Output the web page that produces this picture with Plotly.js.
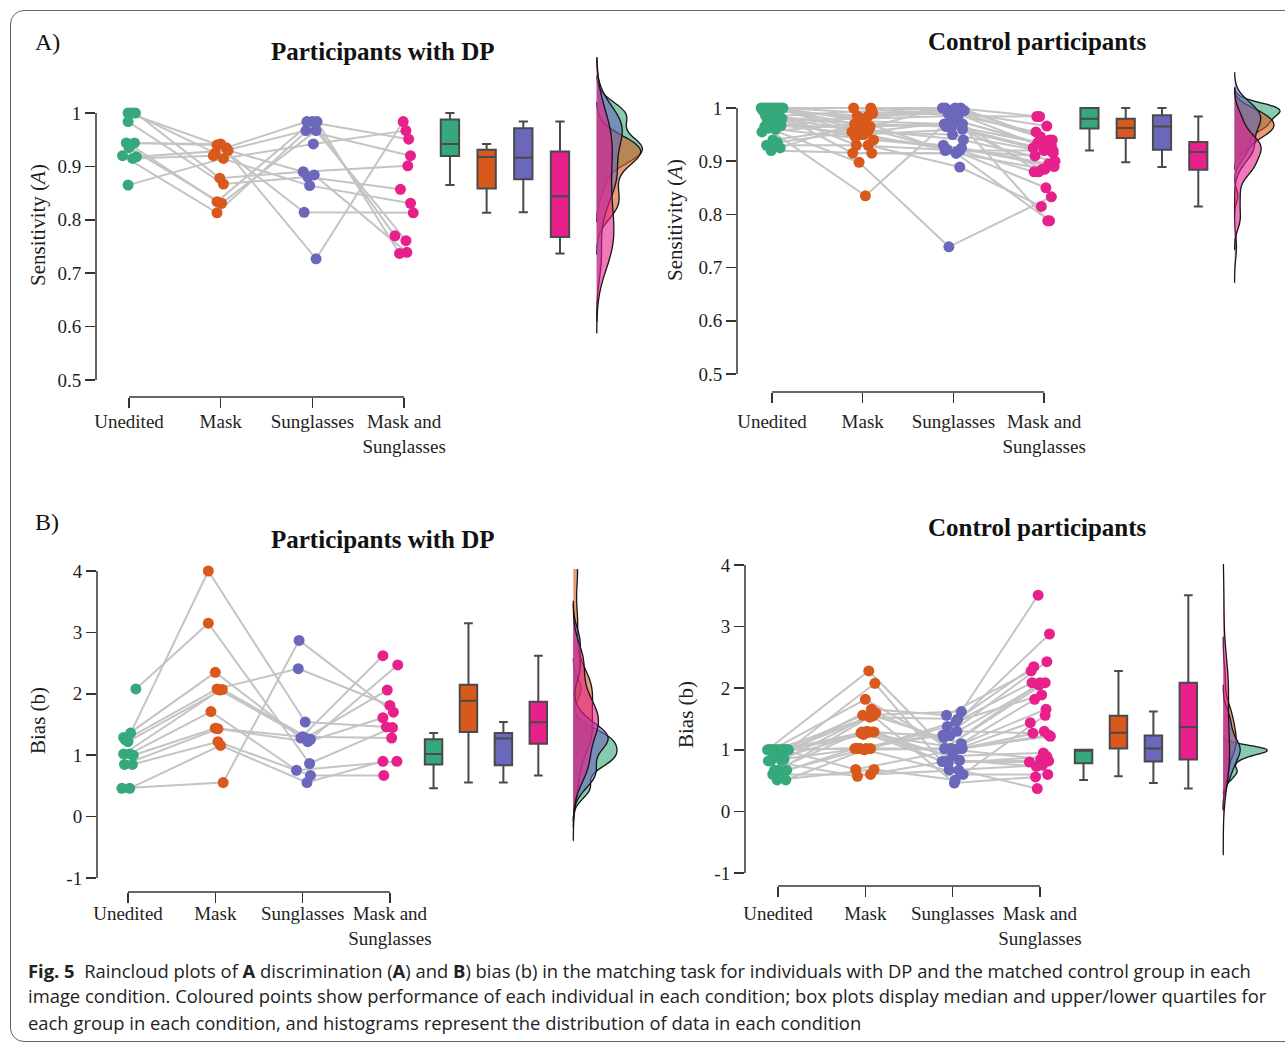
<!DOCTYPE html>
<html>
<head>
<meta charset="utf-8">
<script src="https://cdn.plot.ly/plotly-3.0.1.min.js"></script>
<style>
html,body{margin:0;padding:0;background:#fff;overflow:hidden;}
#chart{position:absolute;left:0;top:0;width:1285px;height:1044px;}
#frame{position:absolute;left:10px;top:10px;width:1320px;height:1032px;border:1px solid #666;border-radius:14px;box-sizing:border-box;pointer-events:none;}
</style>
</head>
<body>
<div id="chart"></div>
<div id="frame"></div>
<script>
// ---------------- DATA ----------------
const conditionLabels = ["Unedited", "Mask", "Sunglasses", "Mask and<br>Sunglasses"];
const sensTickVals = [0.5, 0.6, 0.7, 0.8, 0.9, 1];
const sensTickText = ["0.5", "0.6", "0.7", "0.8", "0.9", "1"];
const biasTickVals = [-1, 0, 1, 2, 3, 4];
const biasTickText = ["-1", "0", "1", "2", "3", "4"];

// A) Sensitivity, participants with DP (one entry per participant)
const dpSensUnedited   = [1.0, 1.0, 1.0, 0.984, 0.944, 0.944, 0.94, 0.935, 0.92, 0.918, 0.915, 0.865];
const dpSensMask       = [0.935, 0.925, 0.878, 0.867, 0.942, 0.94, 0.834, 0.831, 0.813, 0.93, 0.92, 0.915];
const dpSensSunglasses = [0.984, 0.967, 0.89, 0.88, 0.727, 0.814, 0.984, 0.967, 0.984, 0.884, 0.864, 0.942];
const dpSensMaskSung   = [0.951, 0.92, 0.901, 0.857, 0.984, 0.813, 0.77, 0.761, 0.737, 0.739, 0.831, 0.967];

// A) Sensitivity, control participants
const ctlSensUnedited   = [1, 1, 1, 1, 1, 1, 1, 1, 1, 0.995, 0.99, 0.985, 0.985, 0.98, 0.98, 0.975, 0.97, 0.965, 0.965, 0.96, 0.955, 0.967, 0.962, 0.94, 0.935, 0.93, 0.925, 0.92];
const ctlSensMask       = [0.98, 1, 0.965, 0.95, 0.99, 0.93, 0.975, 1, 0.96, 0.985, 0.915, 0.97, 0.995, 0.945, 0.955, 0.98, 0.96, 0.985, 0.835, 0.94, 0.97, 0.95, 0.898, 0.965, 0.955, 0.93, 0.975, 0.915];
const ctlSensSunglasses = [1, 0.985, 1, 0.96, 0.995, 0.92, 0.97, 1, 0.94, 0.99, 0.915, 0.965, 1, 0.93, 0.975, 0.985, 0.922, 0.995, 0.98, 0.925, 0.965, 0.918, 0.739, 0.97, 0.95, 0.889, 0.92, 0.915];
const ctlSensMaskSung   = [0.94, 0.984, 0.92, 0.885, 0.966, 0.88, 0.93, 0.984, 0.9, 0.955, 0.885, 0.92, 0.946, 0.89, 0.935, 0.788, 0.91, 0.94, 0.93, 0.895, 0.925, 0.85, 0.833, 0.88, 0.915, 0.815, 0.92, 0.788];

// B) Bias, participants with DP
const dpBiasUnedited   = [2.08, 1.36, 0.46, 0.46, 1.29, 1.25, 1.22, 1.02, 1.02, 1.0, 0.85, 0.85];
const dpBiasMask       = [3.15, 4.0, 0.555, 1.16, 2.35, 2.08, 2.07, 2.06, 1.71, 1.44, 1.43, 1.22];
const dpBiasSunglasses = [0.865, 1.54, 2.87, 0.555, 1.28, 2.41, 1.26, 1.28, 0.755, 1.30, 1.22, 0.67];
const dpBiasMaskSung   = [1.45, 1.46, 1.70, 0.90, 2.62, 1.81, 2.47, 2.06, 0.90, 1.28, 1.61, 0.67];

// B) Bias, control participants
const ctlBiasUnedited   = [1, 1, 1, 1, 1, 1, 1, 1, 1, 1, 1, 1, 1, 1, 1, 0.95, 0.9, 0.85, 0.83, 0.83, 0.82, 0.67, 0.67, 0.67, 0.65, 0.6, 0.51, 0.51];
const ctlBiasMask       = [2.28, 1.02, 1.29, 1.56, 2.08, 1.02, 1.3, 1.55, 1.27, 1.02, 0.68, 1.82, 1.29, 1.02, 1.53, 1.25, 1.66, 1.02, 1.28, 1.6, 0.57, 1.02, 1.29, 1.56, 1.02, 0.6, 1.0, 0.68];
const ctlBiasSunglasses = [1.02, 1.3, 0.81, 1.62, 0.67, 1.02, 1.2, 0.46, 1.02, 1.38, 1.0, 1.02, 0.83, 1.24, 1.5, 0.9, 1.56, 0.6, 1.23, 1.02, 0.81, 1.46, 0.78, 1.1, 1.0, 0.67, 1.02, 0.51];
const ctlBiasMaskSung   = [2.09, 1.27, 0.82, 3.51, 0.75, 1.44, 2.43, 0.56, 1.22, 2.09, 0.85, 1.66, 0.73, 2.88, 2.35, 0.95, 2.28, 0.6, 2.05, 1.3, 0.8, 1.89, 0.89, 1.82, 1.24, 0.37, 2.09, 1.56];

// horizontal jitter of the raindrops (category units)
const jitA_dp = [
  [-0.01, 0.03, 0.07, -0.01, -0.03, 0.06, 0.02, 0.0, -0.07, 0.08, 0.04, -0.01],
  [0.06, -0.06, -0.01, 0.03, 0.0, -0.04, -0.04, 0.01, -0.04, 0.08, -0.08, 0.03],
  [-0.06, -0.07, -0.1, -0.05, 0.04, -0.09, 0.0, 0.04, 0.05, 0.02, -0.03, 0.01],
  [0.05, 0.07, 0.04, -0.04, -0.01, 0.1, -0.1, 0.02, -0.05, 0.03, 0.07, 0.02]
];
const jitB_dp = [
  [0.09, 0.03, -0.07, 0.02, -0.05, -0.03, 0.0, -0.05, 0.02, 0.06, -0.04, 0.05],
  [-0.08, -0.08, 0.09, 0.06, 0.0, 0.02, 0.08, 0.05, -0.05, 0.0, 0.03, 0.03],
  [0.08, 0.03, -0.04, 0.05, -0.02, -0.05, 0.09, 0.03, -0.07, 0.0, 0.06, 0.09],
  [0.03, -0.04, 0.04, -0.08, -0.08, 0.0, 0.09, -0.03, 0.08, 0.02, -0.08, -0.07]
];
const jitCtl = [
  [-0.12, -0.06, 0.0, 0.06, 0.12, -0.09, 0.09, -0.03, 0.03, -0.1, 0.05, -0.07, 0.08, -0.02, 0.11, -0.05, 0.02, 0.07, -0.08, 0.04, -0.11, 0.1, -0.04, 0.01, 0.06, -0.06, 0.09, -0.01],
  [0.04, -0.1, 0.08, -0.03, 0.11, -0.07, 0.02, 0.09, -0.05, 0.06, -0.11, 0.0, 0.1, -0.08, 0.05, -0.02, 0.07, -0.06, 0.03, 0.12, -0.09, 0.01, -0.04, 0.08, -0.12, 0.06, -0.01, 0.1],
  [-0.09, 0.05, -0.12, 0.1, -0.04, 0.07, -0.1, 0.02, 0.11, -0.06, 0.03, -0.02, 0.08, -0.11, 0.06, 0.0, -0.07, 0.12, -0.03, 0.09, -0.08, 0.04, -0.05, 0.1, -0.01, 0.07, -0.09, 0.03],
  [0.06, -0.08, 0.1, -0.02, 0.03, -0.11, 0.08, -0.05, 0.12, -0.09, 0.01, 0.07, -0.04, 0.11, -0.07, 0.04, -0.1, 0.09, -0.01, 0.05, -0.12, 0.02, 0.08, -0.06, 0.1, -0.03, 0.0, 0.06]
];

// ---------------- STYLE ----------------
const colors = ["#35a97c", "#d9581c", "#6b67bb", "#e8208c"];
const densFill = ["rgba(53,169,124,0.6)", "rgba(217,88,28,0.6)", "rgba(107,103,187,0.6)", "rgba(232,32,140,0.6)"];
const boxPos = [3.5, 3.9, 4.3, 4.7];
const densPos = 5.1;
const densFullWidth = 1.0;   // violin full width -> half-violin reaches 0.5 category units
const W = 1285, H = 1044;
const serif = "Liberation Serif, Times New Roman, serif";

// ---------------- statistics helpers (ggplot-like) ----------------
function quantile7(sorted, p) {
  const h = (sorted.length - 1) * p, lo = Math.floor(h);
  const hi = Math.min(lo + 1, sorted.length - 1);
  return sorted[lo] + (h - lo) * (sorted[hi] - sorted[lo]);
}
function boxStats(vals) {
  const s = vals.slice().sort((a, b) => a - b);
  const q1 = quantile7(s, 0.25), med = quantile7(s, 0.5), q3 = quantile7(s, 0.75);
  const iqr = q3 - q1;
  const lf = Math.min(...s.filter(v => v >= q1 - 1.5 * iqr));
  const uf = Math.max(...s.filter(v => v <= q3 + 1.5 * iqr));
  return {q1, med, q3, lf, uf};
}
function bwNrd0(vals) {
  const n = vals.length;
  const mean = vals.reduce((a, b) => a + b, 0) / n;
  const sd = Math.sqrt(vals.reduce((a, b) => a + (b - mean) * (b - mean), 0) / (n - 1));
  const s = vals.slice().sort((a, b) => a - b);
  const iqr = quantile7(s, 0.75) - quantile7(s, 0.25);
  const lo = Math.min(sd, iqr / 1.34) || sd;
  return 0.9 * lo * Math.pow(n, -0.2);
}
function kdePeak(vals, bw) {
  const mn = Math.min(...vals) - 3 * bw, mx = Math.max(...vals) + 3 * bw;
  let best = 0;
  for (let g = 0; g <= 512; g++) {
    const x = mn + (mx - mn) * g / 512;
    let s = 0;
    for (const v of vals) { const z = (x - v) / bw; s += Math.exp(-0.5 * z * z); }
    s /= (vals.length * bw * Math.sqrt(2 * Math.PI));
    if (s > best) best = s;
  }
  return best;
}

const panels = [
  {vals: [dpSensUnedited, dpSensMask, dpSensSunglasses, dpSensMaskSung], jit: jitA_dp,
   c0: 129, step: 91.7, left: 96, right: 660, top: 57, bottom: 397, stand: -3,
   va: 1, pa: 113, vb: 0.5, pb: 380, tv: sensTickVals, tt: sensTickText},
  {vals: [ctlSensUnedited, ctlSensMask, ctlSensSunglasses, ctlSensMaskSung], jit: jitCtl,
   c0: 772, step: 90.7, left: 737, right: 1284, top: 72, bottom: 392, stand: 2,
   va: 1, pa: 108, vb: 0.5, pb: 374, tv: sensTickVals, tt: sensTickText},
  {vals: [dpBiasUnedited, dpBiasMask, dpBiasSunglasses, dpBiasMaskSung], jit: jitB_dp,
   c0: 128, step: 87.3, left: 97, right: 650, top: 569, bottom: 892, stand: -6,
   va: 4, pa: 571, vb: -1, pb: 878, tv: biasTickVals, tt: biasTickText},
  {vals: [ctlBiasUnedited, ctlBiasMask, ctlBiasSunglasses, ctlBiasMaskSung], jit: jitCtl,
   c0: 778, step: 87.3, left: 745, right: 1284, top: 564, bottom: 886, stand: 0,
   va: 4, pa: 565, vb: -1, pb: 873, tv: biasTickVals, tt: biasTickText}
];

const traces = [];
const layout = {
  width: W, height: H, margin: {l: 0, r: 0, t: 0, b: 0},
  paper_bgcolor: "#fff", plot_bgcolor: "rgba(0,0,0,0)",
  showlegend: false, violinmode: "overlay", boxmode: "overlay",
  shapes: [], annotations: [], hovermode: false
};

panels.forEach((P, k) => {
  const sfx = k === 0 ? "" : String(k + 1);
  const xa = "x" + sfx, ya = "y" + sfx;
  const vAt = p => P.va + (p - P.pa) * (P.vb - P.va) / (P.pb - P.pa);
  const n = P.vals[0].length;

  // connecting lines
  const lx = [], ly = [];
  for (let i = 0; i < n; i++) {
    for (let c = 0; c < 4; c++) { lx.push(c + P.jit[c][i]); ly.push(P.vals[c][i]); }
    lx.push(null); ly.push(null);
  }
  traces.push({type: "scatter", mode: "lines", x: lx, y: ly, xaxis: xa, yaxis: ya,
    line: {color: "#c4c4c4", width: 2}, hoverinfo: "skip", connectgaps: false, cliponaxis: false});

  // raindrops
  for (let c = 0; c < 4; c++) {
    traces.push({type: "scatter", mode: "markers", xaxis: xa, yaxis: ya, cliponaxis: false,
      x: P.vals[c].map((v, i) => c + P.jit[c][i]), y: P.vals[c],
      marker: {color: colors[c], size: 11, line: {width: 0}}, hoverinfo: "skip"});
  }
  // boxes (Tukey whiskers, outliers hidden)
  for (let c = 0; c < 4; c++) {
    const st = boxStats(P.vals[c]);
    traces.push({type: "box", xaxis: xa, yaxis: ya, x: [boxPos[c]],
      q1: [st.q1], median: [st.med], q3: [st.q3], lowerfence: [st.lf], upperfence: [st.uf],
      width: 0.2, whiskerwidth: 0.5, boxpoints: false,
      fillcolor: colors[c], line: {color: "#4a4a4a", width: 2}, hoverinfo: "skip"});
  }
  // clouds (area-scaled half densities)
  const bws = P.vals.map(bwNrd0);
  const peaks = P.vals.map((v, c) => kdePeak(v, bws[c]));
  const maxPeak = Math.max(...peaks);
  for (let c = 0; c < 4; c++) {
    const v = P.vals[c], bw = bws[c];
    traces.push({type: "violin", xaxis: xa, yaxis: ya, x0: densPos, y: v,
      side: "positive", width: densFullWidth * peaks[c] / maxPeak,
      points: false, box: {visible: false}, meanline: {visible: false},
      bandwidth: bw, spanmode: "manual", span: [Math.min(...v) - 3 * bw, Math.max(...v) + 3 * bw],
      scalemode: "width",
      fillcolor: densFill[c], line: {color: "#151515", width: 1.3}, hoverinfo: "skip"});
  }

  const tickFont = {family: serif, size: 19, color: "#1e1e1e"};
  layout["xaxis" + sfx] = {
    domain: [P.left / W, P.right / W],
    range: [(P.left - P.c0) / P.step, (P.right - P.c0) / P.step],
    anchor: ya, tickvals: [0, 1, 2, 3], ticktext: conditionLabels,
    ticks: "outside", ticklen: 10, tickwidth: 1.5, tickcolor: "#333", ticklabelstandoff: P.stand,
    showline: false, showgrid: false, zeroline: false, tickfont: tickFont, fixedrange: true
  };
  layout["yaxis" + sfx] = {
    domain: [1 - P.bottom / H, 1 - P.top / H],
    range: [vAt(P.bottom), vAt(P.top)],
    anchor: xa, tickvals: P.tv, ticktext: P.tt,
    ticks: "outside", ticklen: 10, tickwidth: 1.5, tickcolor: "#333",
    showline: false, showgrid: false, zeroline: false, tickfont: tickFont, fixedrange: true
  };
  layout.shapes.push({type: "line", xref: xa, yref: ya + " domain", x0: 0, x1: 3, y0: 0, y1: 0,
    line: {color: "#333", width: 1.5}});
  layout.shapes.push({type: "line", xref: xa + " domain", yref: ya, x0: 0, x1: 0,
    y0: P.tv[0], y1: P.tv[P.tv.length - 1], line: {color: "#333", width: 1.5}});
});

function ann(text, px, py, opts) {
  return Object.assign({text: text, x: px / W, y: 1 - py / H, xref: "paper", yref: "paper",
    showarrow: false, xanchor: "center", yanchor: "middle",
    font: {family: serif, size: 19, color: "#1e1e1e"}}, opts || {});
}
const titleFont = {family: serif, size: 25, color: "#111"};
layout.annotations.push(ann("<b>Participants with DP</b>", 383, 52, {font: titleFont}));
layout.annotations.push(ann("<b>Control participants</b>", 1037, 41, {font: titleFont}));
layout.annotations.push(ann("<b>Participants with DP</b>", 383, 539, {font: titleFont}));
layout.annotations.push(ann("<b>Control participants</b>", 1037, 527, {font: titleFont}));
layout.annotations.push(ann("A)", 47, 42, {font: {family: serif, size: 24, color: "#111"}}));
layout.annotations.push(ann("B)", 47, 522, {font: {family: serif, size: 24, color: "#111"}}));
const yTitleFont = {family: serif, size: 21, color: "#1e1e1e"};
layout.annotations.push(ann("Sensitivity (<i>A</i>)", 38, 225, {textangle: -90, font: yTitleFont}));
layout.annotations.push(ann("Sensitivity (<i>A</i>)", 675, 220, {textangle: -90, font: yTitleFont}));
layout.annotations.push(ann("Bias (b)", 38, 721, {textangle: -90, font: yTitleFont}));
layout.annotations.push(ann("Bias (b)", 686, 715, {textangle: -90, font: yTitleFont}));

const capFont = {family: "Open Sans, Noto Sans, sans-serif", size: 18.4, color: "#222"};
const capLines = [
  "<b>Fig. 5</b>  Raincloud plots of <b>A</b> discrimination (<b>A</b>) and <b>B</b>) bias (b) in the matching task for individuals with DP and the matched control group in each",
  "image condition. Coloured points show performance of each individual in each condition; box plots display median and upper/lower quartiles for",
  "each group in each condition, and histograms represent the distribution of data in each condition"
];
[970, 996, 1022].forEach((py, i) => {
  layout.annotations.push(ann(capLines[i], 26, py, {xanchor: "left", align: "left", font: capFont}));
});

Plotly.newPlot("chart", traces, layout, {staticPlot: true, displayModeBar: false});
</script>
</body>
</html>
